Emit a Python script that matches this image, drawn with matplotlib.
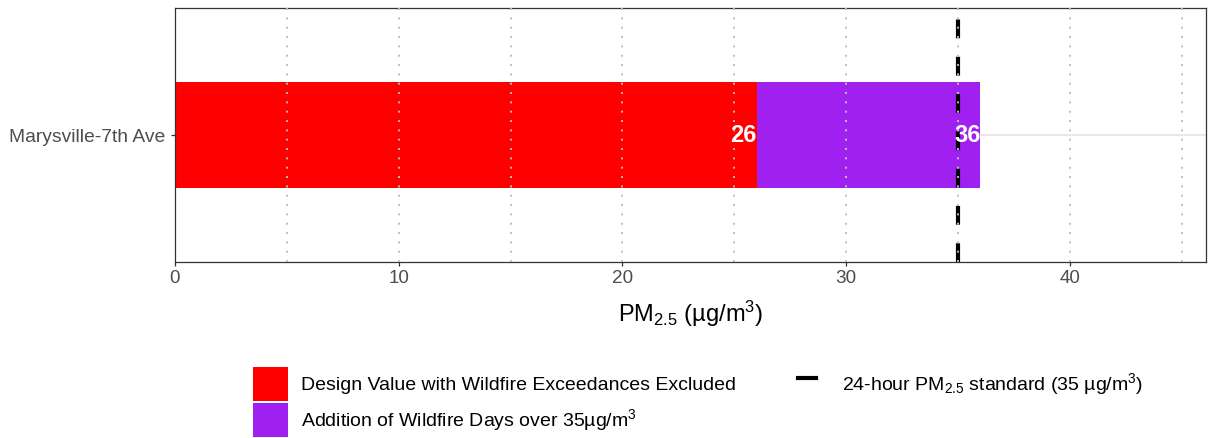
import matplotlib
matplotlib.use("Agg")
import matplotlib.pyplot as plt
from matplotlib.patches import Patch
from matplotlib.lines import Line2D

plt.rcParams["font.family"] = ["Liberation Sans", "DejaVu Sans"]
plt.rcParams["mathtext.fontset"] = "custom"
plt.rcParams["mathtext.rm"] = "Liberation Sans"
plt.rcParams["mathtext.it"] = "Liberation Sans:italic"
plt.rcParams["mathtext.bf"] = "Liberation Sans:bold"

# Data
sites = ["Marysville-7th Ave"]
design_value_excl = [26]      # design value with wildfire exceedances excluded
design_value_incl = [36]      # design value including wildfire days
standard_24h = 35
x_ticks = [0, 10, 20, 30, 40]
grid_x = [5, 10, 15, 20, 25, 30, 35, 40, 45]

RED = "#FF0000"
PURPLE = "#A020F0"

W, H, DPI = 1208, 438, 100
fig = plt.figure(figsize=(W / DPI, H / DPI), dpi=DPI)
ax = fig.add_axes([175 / W, 1 - 262 / H, (1206 - 175) / W, (262 - 8) / H])

ypos = list(range(1, len(sites) + 1))
addition = [b - a for a, b in zip(design_value_excl, design_value_incl)]

# horizontal grid line at each site (under bars)
for y in ypos:
    ax.axhline(y, color="#E6E6E6", lw=1.3, zorder=0)

ax.barh(ypos, design_value_excl, height=0.5, color=RED, zorder=2)
ax.barh(ypos, addition, left=design_value_excl, height=0.5, color=PURPLE, zorder=2)

# 24-hour standard
ax.axvline(standard_24h, color="black", lw=3.0, linestyle=(0, (4.5, 4.45)),
           zorder=3)

# dotted vertical grid lines on top
for gx in grid_x:
    ax.axvline(gx, color="#BDBDBD", lw=1.4, linestyle=(0, (1, 3.8)), zorder=4)

# value labels
for y, a, b in zip(ypos, design_value_excl, design_value_incl):
    ax.text(a, y, f"{a}", ha="right", va="center", color="white",
            fontweight="bold", fontsize=17, zorder=5)
    ax.text(b, y, f"{b}", ha="right", va="center", color="white",
            fontweight="bold", fontsize=17, zorder=5)

ax.set_xlim(0, 46.08)
ax.set_ylim(0.4, len(sites) + 0.6)
ax.set_xticks(x_ticks)
ax.set_xticklabels([str(t) for t in x_ticks])
ax.set_yticks(ypos)
ax.set_yticklabels(sites)
for s in ax.spines.values():
    s.set_color("#333333")
    s.set_linewidth(0.9)
ax.tick_params(axis="both", colors="#333333", labelcolor="#4D4D4D",
               labelsize=13.6, length=3, width=0.9)
ax.tick_params(axis="y", pad=4, labelsize=13.9)
ax.tick_params(axis="x", pad=3)

ax.set_xlabel(r"PM$\mathregular{_{2.5}}$ (µg/m$\mathregular{^3}$)", fontsize=17,
              color="black", labelpad=8)

# fill legend
fill_handles = [Patch(facecolor=RED, edgecolor="none"),
                Patch(facecolor=PURPLE, edgecolor="none")]
fill_labels = ["Design Value with Wildfire Exceedances Excluded",
               r"Addition of Wildfire Days over 35µg/m$\mathregular{^3}$"]
leg1 = fig.legend(fill_handles, fill_labels, loc="upper left",
                  bbox_to_anchor=(253 / W, 1 - 367 / H),
                  bbox_transform=fig.transFigure, frameon=False, fontsize=14,
                  handlelength=1.8, handleheight=2.3, handletextpad=0.68,
                  labelspacing=0.1, borderpad=0, borderaxespad=0)

# standard legend
line_handles = [Line2D([0], [0], color="black", lw=3.0)]
line_labels = [r"24-hour PM$\mathregular{_{2.5}}$ standard (35 µg/m$\mathregular{^3}$)"]
leg2 = fig.legend(line_handles, line_labels, loc="upper left",
                  bbox_to_anchor=(798 / W, 1 - 367 / H),
                  bbox_transform=fig.transFigure, frameon=False, fontsize=14,
                  handlelength=0.95, handleheight=2.3, handletextpad=1.3,
                  borderpad=0, borderaxespad=0)

fig.savefig("out.png", dpi=DPI)
